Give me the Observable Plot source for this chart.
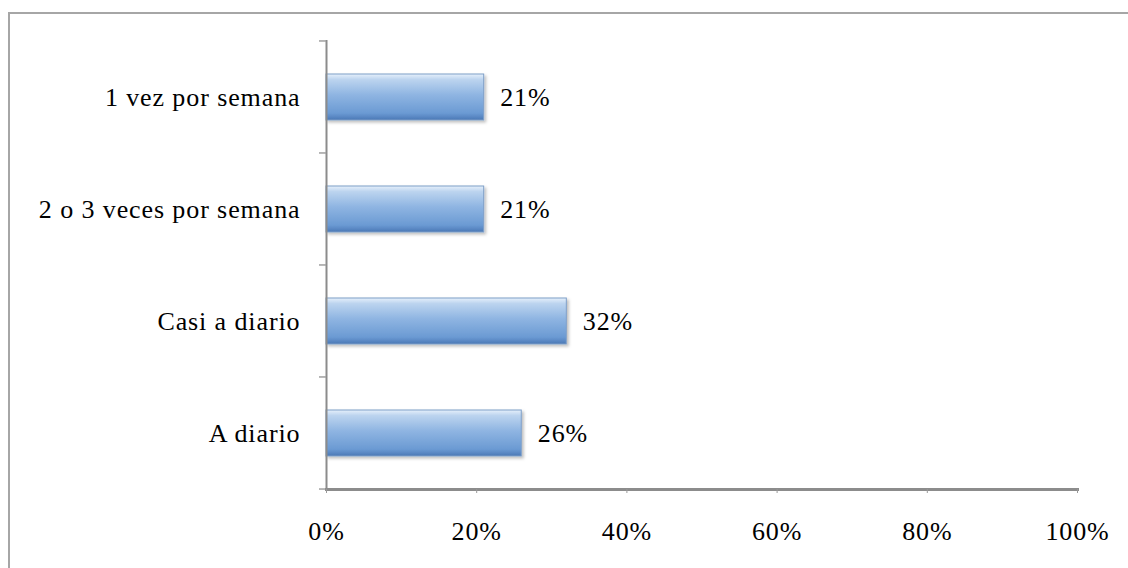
<!DOCTYPE html>
<html>
<head>
<meta charset="utf-8">
<script src="https://cdn.jsdelivr.net/npm/d3@7"></script>
<script src="https://cdn.jsdelivr.net/npm/@observablehq/plot@0.6"></script>
<style>
  html, body { margin: 0; padding: 0; background: #fff; }
  #wrap { position: relative; width: 1128px; height: 568px; overflow: hidden; }
  #frame { position: absolute; left: 8px; top: 12px; width: 1200px; height: 600px;
           border-left: 2px solid #a6a6a6; border-top: 2px solid #a6a6a6; box-sizing: border-box; }
  #chart { position: absolute; left: 0; top: 0; }
</style>
</head>
<body>
<div id="wrap"><div id="frame"></div><div id="chart"></div></div>
<script>
const categories = ["1 vez por semana", "2 o 3 veces por semana", "Casi a diario", "A diario"];
const values = [21, 21, 32, 26];
const xTicks = [0, 20, 40, 60, 80, 100];

const data = categories.map((c, i) => ({cat: c, value: values[i]}));

const paddingInner = 0.59;

// boundary ticks on the left of the y axis, computed from the band scale
function yBoundaryTicks(index, scales, values, dims) {
  const g = document.createElementNS("http://www.w3.org/2000/svg", "g");
  const y = scales.y;
  const step = y.step ? y.step() : (y.bandwidth() / (1 - paddingInner));
  const x0 = scales.x(0);
  const ys = categories.map(c => y(c) - step * paddingInner / 2);
  ys.push(y(categories[categories.length - 1]) + y.bandwidth() + step * paddingInner / 2);
  for (const yy of ys) {
    const l = document.createElementNS("http://www.w3.org/2000/svg", "line");
    l.setAttribute("x1", x0 - 7); l.setAttribute("x2", x0);
    l.setAttribute("y1", yy); l.setAttribute("y2", yy);
    l.setAttribute("stroke", "#a0a0a0"); l.setAttribute("stroke-width", 1.5);
    g.appendChild(l);
  }
  return g;
}

const chart = Plot.plot({
  width: 1128,
  height: 568,
  marginLeft: 326,
  marginRight: 51,
  marginTop: 40,
  marginBottom: 79,
  style: {fontFamily: "'Liberation Serif', serif", fontSize: "26px", color: "#000", letterSpacing: "0.9px", background: "transparent"},
  x: {domain: [0, 100]},
  y: {domain: categories, paddingInner: paddingInner, paddingOuter: paddingInner / 2},
  marks: [
    Plot.barX(data, {x: "value", y: "cat", fill: "url(#barGrad)", stroke: "#7f9fc8", strokeWidth: 1, filter: null}),
    Plot.ruleX([0], {stroke: "#8c8c8c", strokeWidth: 2}),
    yBoundaryTicks,
    Plot.frame({anchor: "bottom", stroke: "#8c8c8c", strokeWidth: 3}),
    Plot.axisX({ticks: xTicks, tickFormat: d => d + "%", tickSize: 4, tickPadding: 28, stroke: "#999", label: null, fill: "#000"}),
    Plot.axisY({tickSize: 0, tickPadding: 26, label: null, fill: "#000"}),
    Plot.text(data, {x: "value", y: "cat", text: d => d.value + "%", textAnchor: "start", dx: 16, fill: "#000"})
  ]
});

const svg = d3.select(chart);
const defs = svg.insert("defs", ":first-child");
const grad = defs.append("linearGradient").attr("id", "barGrad")
  .attr("x1", 0).attr("y1", 0).attr("x2", 0).attr("y2", 1);
[[0, "#e6f0fb"], [0.12, "#bcd4ef"], [0.45, "#8fb5e2"], [0.85, "#6b9ad3"], [0.93, "#5a88c4"], [1, "#4a78b4"]]
  .forEach(([o, c]) => grad.append("stop").attr("offset", o).attr("stop-color", c));
const f = defs.append("filter").attr("id", "shadow").attr("x", "-5%").attr("y", "-20%").attr("width", "110%").attr("height", "150%");
f.append("feDropShadow").attr("dx", 2).attr("dy", 2).attr("stdDeviation", 1.5).attr("flood-color", "#000").attr("flood-opacity", 0.25);
svg.selectAll("g[aria-label='bar'] rect").attr("filter", "url(#shadow)");

document.getElementById("chart").appendChild(chart);
</script>
</body>
</html>
